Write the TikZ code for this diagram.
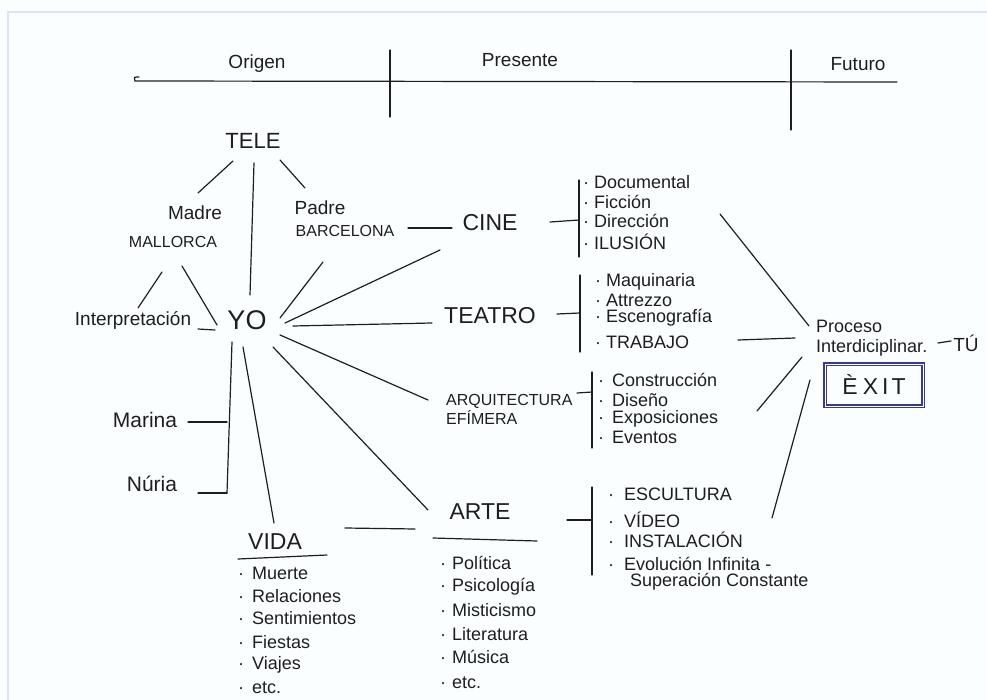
\documentclass[tikz,border=0pt]{standalone}
\usepackage{fontspec}
\setmainfont{Liberation Sans}
\definecolor{ink}{HTML}{1E1E1E}
\definecolor{exitc}{HTML}{3A3A8C}
\definecolor{bgc}{HTML}{FBFEFF}
\definecolor{framec}{HTML}{DDE4F0}
\tikzset{
  lbl/.style={inner sep=1pt, text=ink, font=\fontsize{19}{21}\selectfont},
  small/.style={inner sep=1pt, text=ink, font=\fontsize{16}{18}\selectfont},
  big/.style={inner sep=1pt, text=ink, font=\fontsize{23}{25}\selectfont},
  itm/.style={inner sep=0pt, anchor=west, text=ink, font=\fontsize{18}{20}\selectfont},
  ln/.style={draw=ink, line width=1.2pt, line cap=round},
  exitbox/.style={draw=exitc, line width=1.5pt, double=white, double distance=1pt,
     minimum width=98pt, minimum height=42pt, inner sep=0pt, text=ink,
     font=\fontsize{23}{25}\selectfont},
}
\begin{document}
\begin{tikzpicture}[x=1pt,y=-1pt]
\path[fill=bgc] (0,0) rectangle (987,700);
\useasboundingbox (0,0) rectangle (987,700);
\draw[framec, line width=2pt] (8,700) -- (8,12) -- (987,12);

% ---- timeline
\node[lbl] (origen) at (257,64) {Origen};
\node[lbl] (presente) at (520,60) {Presente};
\node[lbl] (futuro) at (858,64) {Futuro};
\coordinate (tlL) at (135,81);
\coordinate (tlR) at (897,82);
\coordinate (v1t) at (390,50);
\coordinate (v1b) at (390,117);
\coordinate (v2t) at (791,50);
\coordinate (v2b) at (791,130);
\draw[ln] (139,77) .. controls (134,77) .. (tlL) -- (tlR);
\draw[ln] (v1t) -- (v1b);
\draw[ln] (v2t) -- (v2b);

% ---- left family tree
\node[lbl, font=\fontsize{22}{24}\selectfont] (tele) at (253,141) {TELE};
\node[lbl] (madre) at (195,213) {Madre};
\node[small] (mallorca) at (173,242) {MALLORCA};
\node[lbl] (padre) at (320,208) {Padre};
\node[small] (barcelona) at (345,231) {BARCELONA};
\node[lbl, font=\fontsize{27}{29}\selectfont] (yo) at (247,320) {YO};
\node[lbl] (interp) at (133,320) {Interpretación};
\node[lbl, font=\fontsize{21}{23}\selectfont] (marina) at (145,420) {Marina};
\node[lbl, font=\fontsize{21}{23}\selectfont] (nuria) at (152,484) {Núria};
\node[big] (vida) at (275,542) {VIDA};

\draw[ln] ([shift={(-20,20)}]tele.center) -- ([shift={(3,-20)}]madre.center);
\draw[ln] ([shift={(1,22)}]tele.center) -- ([shift={(3,-25)}]yo.center);
\draw[ln] ([shift={(27,19)}]tele.center) -- ([shift={(-15,-20)}]padre.center);
\draw[ln] ([shift={(-11,30)}]mallorca.center) -- ([shift={(5,-12)}]interp.center);
\draw[ln] ([shift={(9,24)}]mallorca.center) -- ([shift={(-30,5)}]yo.center);
\draw[ln] ([shift={(65,9)}]interp.center) -- ([shift={(-32,10)}]yo.center);
\draw[ln] ([shift={(-22,31)}]barcelona.center) -- ([shift={(33,-2)}]yo.center);

% Marina / Nuria bracket
\coordinate (brk) at (227,493);
\draw[ln] ([shift={(-15,22)}]yo.center) -- (brk);
\draw[ln] ([shift={(43,2)}]marina.center) -- (brk |- 0,422);
\draw[ln] ([shift={(46,9)}]nuria.center) -- (brk);

% YO -> VIDA
\draw[ln] ([shift={(-4,27)}]yo.center) -- ([shift={(-1,-19)}]vida.center);
\draw[ln] ([shift={(-37,17)}]vida.center) -- ([shift={(52,13)}]vida.center);

% ---- middle disciplines
\node[big] (cine) at (490,223) {CINE};
\node[big] (teatro) at (490,316) {TEATRO};
\node[small, anchor=west, align=left, font=\fontsize{16}{19}\selectfont] (arq) at (445,409) {ARQUITECTURA\\EFÍMERA};
\node[big] (arte) at (480,512) {ARTE};

\draw[ln] ([shift={(63,-3)}]barcelona.center) -- ([shift={(-38,5)}]cine.center);
\draw[ln] ([shift={(38,3)}]yo.center) -- ([shift={(-50,27)}]cine.center);
\draw[ln] ([shift={(46,6)}]yo.center) -- ([shift={(-58,7)}]teatro.center);
\draw[ln] ([shift={(33,15)}]yo.center) -- ([shift={(-17,-9)}]arq.west);
\draw[ln] ([shift={(26,27)}]yo.center) -- ([shift={(-52,-2)}]arte.center);
\draw[ln] ([shift={(70,-14)}]vida.center) -- ([shift={(-65,17)}]arte.center);
\draw[ln] ([shift={(-47,26)}]arte.center) -- ([shift={(57,29)}]arte.center);

% brackets
\draw[ln] ([shift={(60,-1)}]cine.center) -- (579,220);
\draw[ln] (579,180) -- (579,257);
\draw[ln] ([shift={(67,-2)}]teatro.center) -- (580,313);
\draw[ln] (580,275) -- (580,352);
\draw[ln] ([shift={(132,-16)}]arq.west) -- (592,392);
\draw[ln] (592,372) -- (592,448);
\draw[ln] ([shift={(87,8)}]arte.center) -- (592,520);
\draw[ln] (592,487) -- (592,575);

% lists
\foreach \t/\y [count=\i] in {Documental/182, Ficción/202, Dirección/221, ILUSIÓN/242}
  \node[itm] (c\i) at (583,\y) {·\hspace{5pt}\t};
\foreach \t/\y [count=\i] in {Maquinaria/282, Attrezzo/300, Escenografía/318, TRABAJO/342}
  \node[itm] (t\i) at (595,\y) {·\hspace{5pt}\t};
\foreach \t/\y [count=\i] in {Construcción/380, Diseño/400, Exposiciones/419, Eventos/437}
  \node[itm] (a\i) at (598,\y) {·\hspace{8pt}\t};
\foreach \t/\y [count=\i] in {ESCULTURA/494, VÍDEO/520, INSTALACIÓN/540, Evolución Infinita -/564}
  \node[itm] (r\i) at (608,\y) {·\hspace{10pt}\t};
\node[itm] (r5) at (630,582) {Superación Constante};

\foreach \t/\y [count=\i] in {Muerte/573, Relaciones/596, Sentimientos/618, Fiestas/642, Viajes/665, etc./688}
  \node[itm] (v\i) at (238,\y) {·\hspace{8pt}\t};
\foreach \t/\y [count=\i] in {Política/563, Psicología/587, Misticismo/610, Literatura/634, Música/657, etc./683}
  \node[itm] (p\i) at (440,\y) {·\hspace{6pt}\t};

% ---- future
\node[lbl, anchor=west, align=left, font=\fontsize{18}{20}\selectfont] (proceso) at (815,338) {Proceso\\Interdiciplinar.};
\node[lbl] (tu) at (966,343) {TÚ};
\node[exitbox] (exit) at (874,385) {È\hspace{5pt}X\hspace{4pt}I\hspace{3pt}T};

\draw[ln] ([shift={(137,-7)}]c3.west) -- ([shift={(-6,-12)}]proceso.west);
\draw[ln] ([shift={(143,-2)}]t4.west) -- ([shift={(-20,0)}]proceso.west);
\draw[ln] ([shift={(159,-8)}]a3.west) -- ([shift={(-13,19)}]proceso.west);
\draw[ln] ([shift={(164,-2)}]r2.west) -- ([shift={(-5,42)}]proceso.west);
\draw[ln] ([shift={(123,5)}]proceso.west) -- ([shift={(-15,-2)}]tu.center);
\end{tikzpicture}
\end{document}
